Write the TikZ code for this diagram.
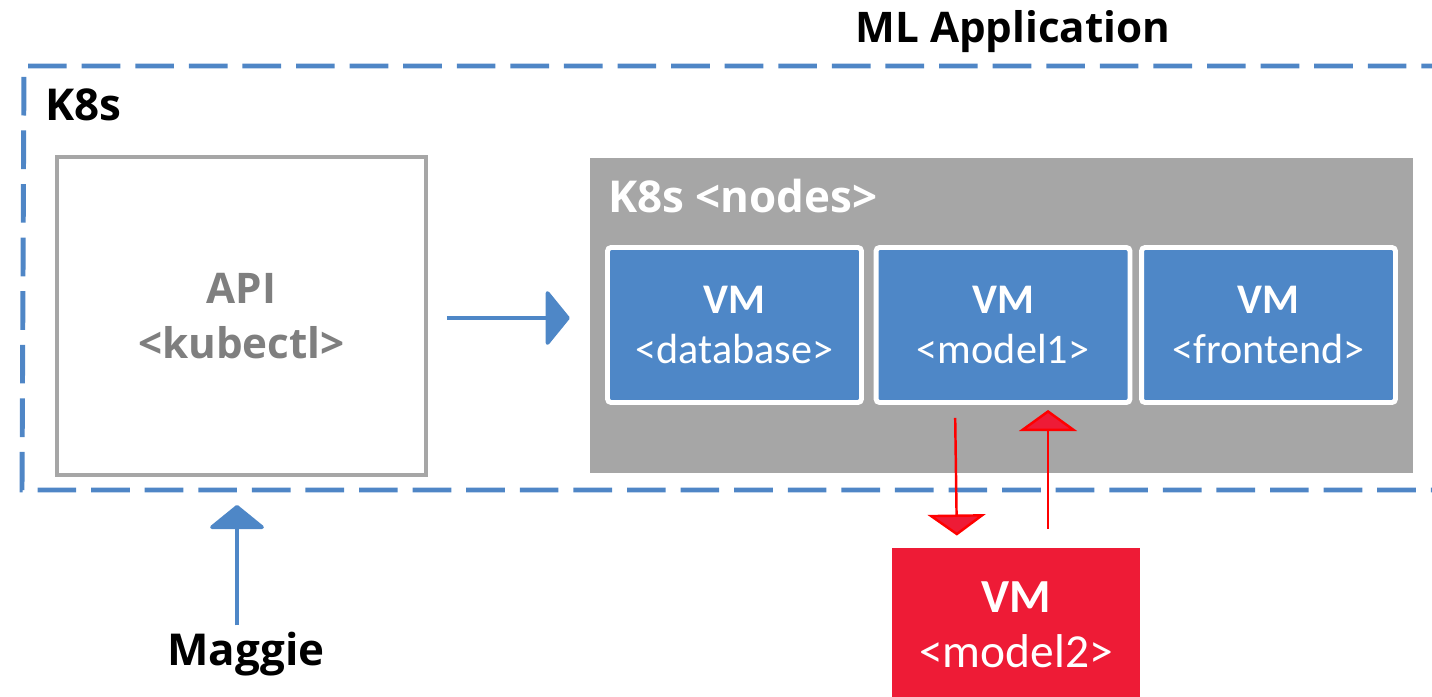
\documentclass[tikz,border=0pt]{standalone}
\usepackage{fontspec}
\setmainfont{Carlito}
\newfontfamily\headfont{Open Sans}
\usetikzlibrary{positioning, calc, arrows.meta}
\definecolor{dashblue}{HTML}{4F86C6}
\definecolor{vmblue}{HTML}{4E87C7}
\definecolor{boxgray}{HTML}{A6A6A6}
\definecolor{txtgray}{HTML}{7F7F7F}
\definecolor{vmred}{HTML}{EE1B36}
\tikzset{x=0.02cm, y=-0.02cm,
headlbl/.style={font=\headfont\bfseries\fontsize{24}{31}\selectfont, align=center},
vmbox/.style={draw=white, line width=2.8pt, rounded corners=2pt, fill=vmblue, text=white,
  minimum width=5.08cm, minimum height=3.1cm, inner sep=0pt, align=center,
  font=\fontsize{24}{28}\selectfont},
bluearrow/.style={draw=vmblue, line width=2.1pt, -{Triangle[length=14pt, width=34pt, round]}},
redarrow/.style={draw=red, line width=1.4pt, -{Triangle[length=12pt, width=33pt, fill=vmred]}},
}

\begin{document}
\begin{tikzpicture}
\useasboundingbox (0,0) rectangle (1432,696);
\draw[dashblue, line width=2.8pt, dash pattern=on 22pt off 8.5pt]
    (1460,66) -- (24,66) -- (22,490) -- (1460,490);
\node[headlbl, anchor=base] (title) at (1013,43) {ML Application};
\node[headlbl, anchor=base west, inner sep=0pt, font=\headfont\bfseries\fontsize{25}{30}\selectfont] (k8s) at (45,120) {K8s};

\node[draw=boxgray, line width=2.3pt, fill=white, minimum width=7.38cm, minimum height=6.36cm,
    headlbl, text=txtgray] (api) at (241.5,316) {API\\<kubectl>};
\node[fill=boxgray, minimum width=16.46cm, minimum height=6.3cm, inner sep=0pt] (nodes) at (1001.5,315.5) {};
\node[headlbl, anchor=base west, inner sep=0pt, text=white, font=\headfont\bfseries\fontsize{25}{30}\selectfont]
    (nodeslbl) at (608,212) {K8s <nodes>};
\node[vmbox] (vmdb) at (734.5,325) {\textbf{VM}\\<database>};
\node[vmbox] (vmmodel) at (1003,325) {\textbf{VM}\\<model1>};
\node[vmbox] (vmfront) at (1268.5,325) {\textbf{VM}\\<frontend>};
\node[vmbox, draw=none, rounded corners=0pt, fill=vmred, minimum width=4.96cm, minimum height=3.08cm,
    font=\fontsize{27}{31}\selectfont] (vmnew) at (1016,625) {\textbf{VM}\\<model2>};
\node[headlbl, anchor=base, text=black, font=\headfont\bfseries\fontsize{25}{31}\selectfont] (maggie) at (246,665) {Maggie};

\draw[bluearrow, shorten <=0.38cm, shorten >=0.4cm] (api.east |- 0,318) -- (nodes.west |- 0,318);
\draw[bluearrow, shorten >=0.56cm] (maggie.north -| 237,0) -- (api.south -| 237,0);
\draw[redarrow, shorten <=0.26cm, shorten >=0.2cm] ($(vmmodel.south)+(-48,0)$) -- ($(vmmodel.south |- vmnew.north)+(-46,0)$);
\draw[redarrow, shorten <=0.34cm, shorten >=0.1cm] ($(vmnew.north)+(32,0)$) -- ($(vmmodel.south)+(45,0)$);
\end{tikzpicture}
\end{document}
